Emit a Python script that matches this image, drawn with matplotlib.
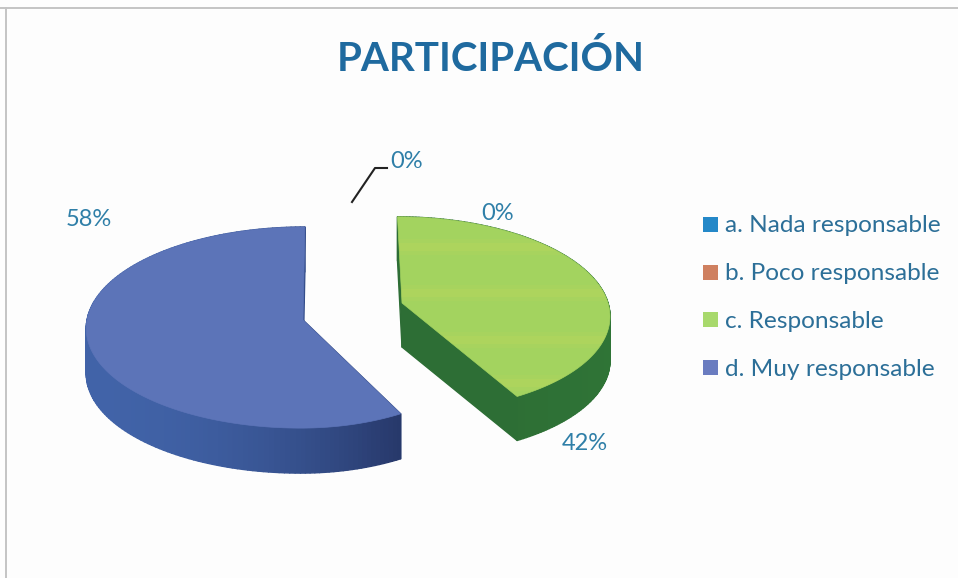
import numpy as np
import matplotlib
matplotlib.use("Agg")
import matplotlib.pyplot as plt
from matplotlib.collections import PolyCollection
from matplotlib.colors import to_rgb
from matplotlib.patches import Polygon, Rectangle

plt.rcParams['font.family'] = ['Lato', 'DejaVu Sans']

TITLE = "PARTICIPACIÓN"
categories = ["a. Nada responsable", "b. Poco responsable", "c. Responsable", "d. Muy responsable"]
values = [0, 0, 42, 58]
legend_colors = ["#2488c8", "#cf8060", "#a8d96c", "#6a7cc0"]
top_colors = ["#2488c8", "#cf8060", "#a3d35f", "#5c74b8"]
side_left = ["#1b6a9c", "#a0593f", "#2d6d35", "#4163a8"]
side_right = ["#1b6a9c", "#a0593f", "#2f7436", "#27386a"]

# pixel geometry of each exploded slice (the scan is not a clean projection)
geometry = {
    2: dict(cx=402, cy=303, rx_l=208, rx_r=206, ry=96, k=0.114, skew=-5, depth=44),
    3: dict(cx=303, cy=320, rx_l=216, rx_r=193, ry=100, k=0.075, skew=2, depth=45),
}
# label text anchor positions in pixels
label_pos = [(407, 162), (498, 213), (585, 444), (89, 219)]
legend_rows = [226, 274, 321, 369]
stripe_rows = [247, 293, 340, 383]


def project(theta, g):
    u, v = np.sin(theta), np.cos(theta)
    w = 1 + g["k"] * v
    rx = np.where(u < 0, g["rx_l"], g["rx_r"])
    return g["cx"] + (rx * u + g["skew"] * v) / w, g["cy"] - g["ry"] * v / w


def draw_slice(ax, start, sweep, i):
    g = geometry[i]
    theta = np.radians(np.linspace(start, start + sweep, 160))
    x, y = project(theta, g)
    outline = np.vstack([[g["cx"], g["cy"]], np.column_stack([x, y])])
    closed = np.vstack([outline, outline[:1]])

    # side wall, one quad per outline edge, darker towards the right
    span = x.max() - x.min()
    c0, c1 = np.array(to_rgb(side_left[i])), np.array(to_rgb(side_right[i]))
    quads, shades = [], []
    for a, b in zip(closed[:-1], closed[1:]):
        quads.append([a, b, b + [0, g["depth"]], a + [0, g["depth"]]])
        t = np.clip((0.5 * (a[0] + b[0]) - x.min()) / span, 0, 1)
        shades.append(c0 + (c1 - c0) * t ** 2)
    ax.add_collection(PolyCollection(quads, facecolors=shades, edgecolors=shades, linewidths=1.0))

    top = Polygon(outline, closed=True, facecolor=top_colors[i], edgecolor=top_colors[i], linewidth=0.5, zorder=3)
    ax.add_patch(top)
    return top


fig = plt.figure(figsize=(9.58, 5.78), dpi=100, facecolor="#fdfdfd")
ax = fig.add_axes([0, 0, 1, 1])
ax.set_xlim(0, 958)
ax.set_ylim(578, 0)
ax.axis("off")

# frame left over from the scanned page
ax.plot([0, 958], [8, 8], color="#c4c4c4", linewidth=1.4)
ax.plot([6, 6], [8, 578], color="#c4c4c4", linewidth=1.4)

ax.text(491, 59, TITLE, color="#1f6a9f", fontsize=29, fontweight="bold", ha="center", va="center")

# slices run clockwise from twelve o'clock
angle = 0.0
for i, val in enumerate(values):
    sweep = val / sum(values) * 360
    if val > 0:
        top = draw_slice(ax, angle, sweep, i)
        if i == 2:
            # yellowish scan stripes on the green face
            for row in stripe_rows:
                for half, alpha in [(8, 0.10), (4, 0.14)]:
                    band = ax.axhspan(row - half, row + half, color="#d2dc5a", alpha=alpha, linewidth=0, zorder=4)
                    band.set_clip_path(top)
    angle += sweep

for val, (lx, ly) in zip(values, label_pos):
    ax.text(lx, ly, f"{val}%", color="#2f7fa8", fontsize=17, ha="center", va="center")

ax.plot([352, 375, 387], [202, 168, 168], color="#222222", linewidth=1.5)

for name, col, row in zip(categories, legend_colors, legend_rows):
    ax.add_patch(Rectangle((703, row - 9), 15, 15, facecolor=col, edgecolor="none"))
    ax.text(725, row, name, color="#2c6f98", fontsize=17.6, ha="left", va="center")

fig.savefig("out.png", dpi=100, facecolor=fig.get_facecolor())
